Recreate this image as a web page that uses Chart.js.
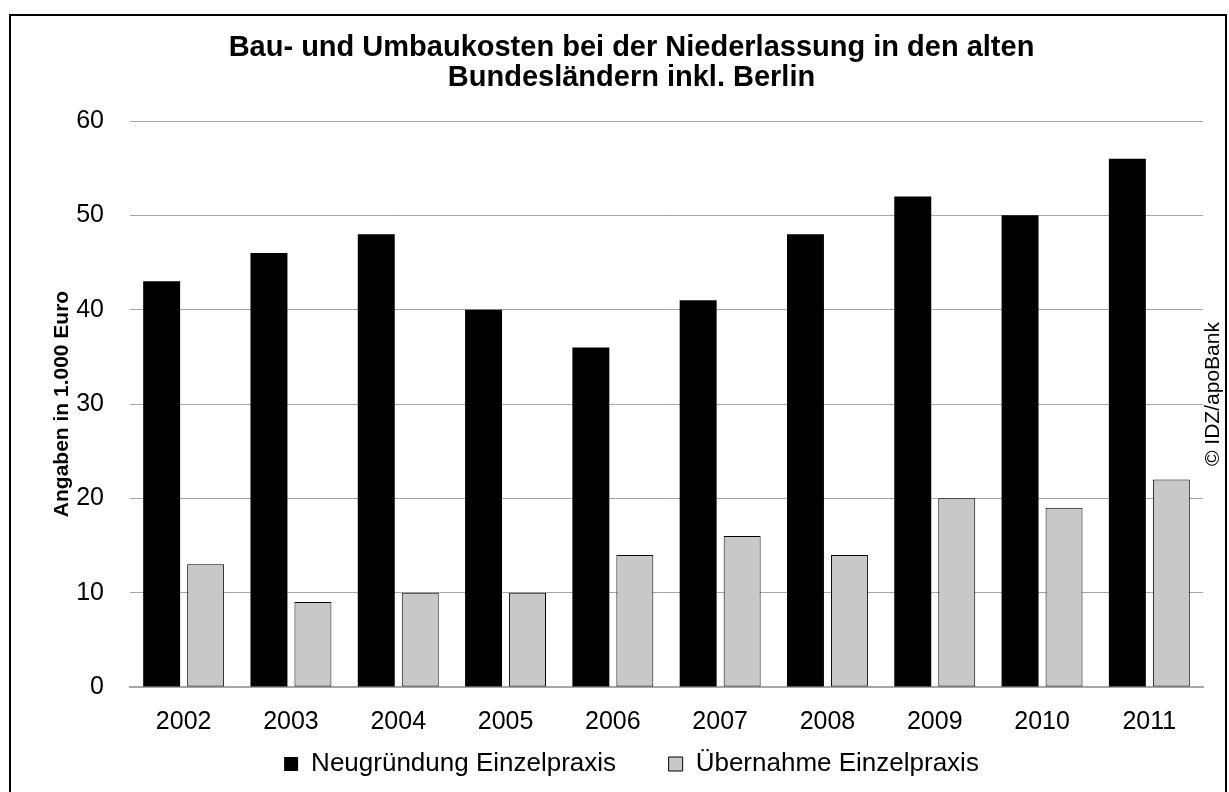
<!DOCTYPE html>
<html>
<head>
<meta charset="utf-8">
<script src="https://cdn.jsdelivr.net/npm/chart.js@4"></script>
<style>
  html, body { margin: 0; padding: 0; background: #fff; }
  #wrap { position: relative; width: 1229px; height: 792px; }
</style>
</head>
<body>
<div id="wrap"><canvas id="chart" width="1229" height="792"></canvas></div>
<script>
// data
const years = ['2002', '2003', '2004', '2005', '2006', '2007', '2008', '2009', '2010', '2011'];
const neugruendung = [43, 46, 48, 40, 36, 41, 48, 52, 50, 56];
const uebernahme = [13, 9, 10, 10, 14, 16, 14, 20, 19, 22];
const seriesNames = ['Neugründung Einzelpraxis', 'Übernahme Einzelpraxis'];
const titleLines = ['Bau- und Umbaukosten bei der Niederlassung in den alten', 'Bundesländern inkl. Berlin'];
const yTitle = 'Angaben in 1.000 Euro';
const sourceNote = '© IDZ/apoBank';

const FONT = "'Liberation Sans', Arial, sans-serif";
const GRID = '#a6a6a6';

Chart.defaults.font.family = FONT;
Chart.defaults.color = '#000';

// frame around the whole picture + the rotated source note on the right
const framePlugin = {
  id: 'frame',
  afterDraw(chart) {
    const ctx = chart.ctx;
    ctx.save();
    ctx.strokeStyle = '#000';
    ctx.lineWidth = 2;
    ctx.strokeRect(10, 15, 1216, 800);
    ctx.translate(1213, 394);
    ctx.rotate(-Math.PI / 2);
    ctx.font = '21px ' + FONT;
    ctx.fillStyle = '#000';
    ctx.textAlign = 'center';
    ctx.textBaseline = 'middle';
    ctx.fillText(sourceNote, 0, 0);
    ctx.restore();
  }
};

new Chart(document.getElementById('chart'), {
  type: 'bar',
  data: {
    labels: years,
    datasets: [
      {
        label: seriesNames[0],
        data: neugruendung,
        backgroundColor: '#000',
        borderColor: '#000',
        borderWidth: 0,
      },
      {
        label: seriesNames[1],
        data: uebernahme,
        backgroundColor: '#c8c8c8',
        borderColor: '#000',
        borderWidth: 1,
        borderSkipped: false,
      },
    ],
  },
  options: {
    responsive: false,
    animation: false,
    categoryPercentage: 0.82,
    barPercentage: 0.84,
    layout: { padding: { left: 60, right: 26, top: 0, bottom: 5 } },
    plugins: {
      title: {
        display: true,
        text: titleLines,
        color: '#000',
        font: { size: 29, weight: 'bold', lineHeight: '30px' },
        padding: { top: 33, bottom: 28 },
      },
      legend: {
        position: 'bottom',
        labels: {
          boxWidth: 14,
          boxHeight: 14,
          padding: 2,
          color: '#000',
          font: { size: 26 },
          // the gap between the two entries is wider than the vertical padding
          generateLabels: chart => {
            const items = Chart.defaults.plugins.legend.labels.generateLabels(chart);
            items[0].text += '       ';
            return items;
          },
        },
      },
      tooltip: { enabled: false },
    },
    scales: {
      x: {
        grid: { display: false },
        border: { display: true, color: GRID, width: 2 },
        ticks: { padding: 12, font: { size: 25 }, color: '#000' },
      },
      y: {
        min: 0, max: 60,
        afterFit: scale => { scale.width = 70; },
        grid: { color: GRID, lineWidth: 1, drawTicks: false },
        border: { display: false },
        ticks: { stepSize: 10, padding: 26, font: { size: 25 }, color: '#000' },
        title: {
          display: true,
          text: yTitle,
          color: '#000',
          font: { size: 21, weight: 'bold' },
          padding: { top: -10, bottom: 0 },
        },
      },
    },
  },
  plugins: [framePlugin],
});
</script>
</body>
</html>
